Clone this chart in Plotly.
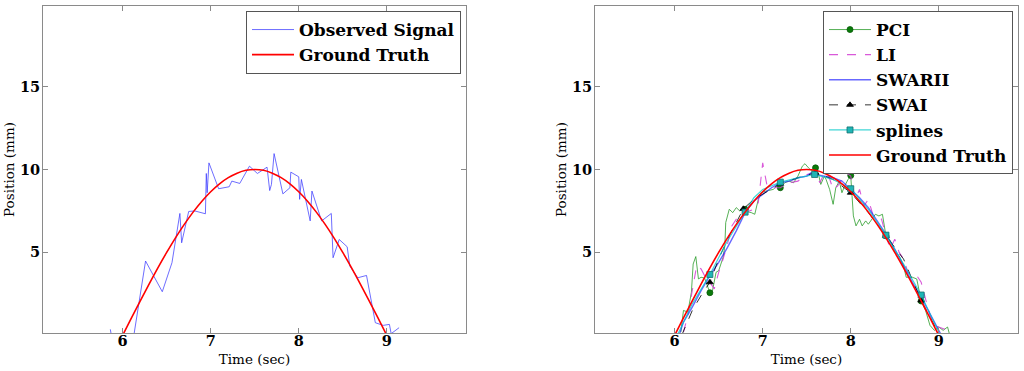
import plotly.graph_objects as go

# ---------------- data ----------------
obs_t = [5.86, 5.88, 5.95, 6.05, 6.13, 6.26, 6.45, 6.56, 6.65, 6.67, 6.75, 6.82, 6.94, 6.95, 6.96,
         6.98, 7.09, 7.21, 7.24, 7.33, 7.44, 7.53, 7.64, 7.67, 7.69, 7.72, 7.82, 7.90, 7.91, 8.00,
         8.01, 8.03, 8.13, 8.15, 8.26, 8.37, 8.39, 8.46, 8.55, 8.58, 8.67, 8.77, 8.87, 8.96, 9.03,
         9.05, 9.14]
obs_y = [0.36, -0.3, -0.5, -0.4, 0.1, 4.48, 2.63, 4.38, 7.35, 5.58, 7.47, 7.50, 7.33, 9.76, 8.60,
         10.40, 8.84, 8.96, 9.30, 9.16, 10.20, 9.76, 10.14, 8.73, 9.10, 10.96, 8.53, 8.90, 9.84, 9.56,
         8.20, 9.40, 6.90, 8.70, 6.90, 7.35, 4.68, 5.78, 5.34, 4.18, 3.47, 3.61, 0.76, 0.60, 0.66,
         0.10, 0.46]

gt_t = [6.0, 6.1, 6.2, 6.3, 6.4, 6.5, 6.6, 6.7, 6.8, 6.9, 7.0, 7.1, 7.2, 7.3, 7.4, 7.5,
        7.6, 7.7, 7.8, 7.9, 8.0, 8.1, 8.2, 8.3, 8.4, 8.5, 8.6, 8.7, 8.8, 8.9, 9.0]
gt_y = [0.0, 1.05, 2.08, 3.09, 4.07, 5.0, 5.88, 6.69, 7.43, 8.09, 8.66, 9.14, 9.51, 9.78, 9.95, 10.0,
        9.95, 9.78, 9.51, 9.14, 8.66, 8.09, 7.43, 6.69, 5.88, 5.0, 4.07, 3.09, 2.08, 1.05, 0.0]

pci_t = [6.07, 6.10, 6.15, 6.19, 6.21, 6.24, 6.27, 6.30, 6.34, 6.38, 6.40, 6.43, 6.47, 6.50, 6.55,
         6.57, 6.58, 6.62, 6.66, 6.70, 6.74, 6.78, 6.80, 6.83, 6.87, 6.91, 6.95, 6.98, 7.04, 7.12,
         7.16, 7.20, 7.25, 7.30, 7.35, 7.40, 7.45, 7.48, 7.52, 7.56, 7.60, 7.63, 7.66, 7.70, 7.72,
         7.76, 7.80, 7.83, 7.87, 7.90, 7.93, 7.97, 8.00, 8.03, 8.06, 8.10, 8.13, 8.17, 8.20, 8.24,
         8.28, 8.32, 8.36, 8.40, 8.45, 8.50, 8.55, 8.60, 8.63, 8.70, 8.75, 8.80, 8.85, 8.90, 8.95,
         9.00, 9.05, 9.10, 9.12]
pci_y = [0.2, 1.5, 1.4, 2.6, 4.3, 4.75, 3.4, 3.5, 3.45, 2.8, 2.57, 2.7, 3.8, 3.9, 4.7,
         5.4, 6.8, 7.6, 7.4, 7.7, 7.5, 7.7, 7.6, 7.45, 7.4, 7.3, 8.2, 8.6, 8.7, 8.8,
         9.0, 8.9, 9.2, 9.3, 9.2, 9.6, 10.2, 10.35, 10.1, 9.9, 10.1, 9.8, 9.1, 9.6, 9.4,
         8.8, 7.9, 8.9, 9.3, 8.6, 9.0, 9.4, 9.6, 7.2, 6.6, 7.0, 6.6, 6.9, 6.7, 7.0,
         7.3, 7.2, 7.3, 6.0, 5.7, 5.0, 4.8, 4.2, 3.5, 3.5, 3.4, 2.07, 1.5, 0.6, 0.3,
         0.5, 0.3, 0.5, 0.1]
pci_mt = [6.4, 6.8, 7.2, 7.6, 8.0, 8.4, 8.8]
pci_my = [2.57, 7.6, 8.9, 10.1, 9.64, 6.0, 2.07]

li_t = [6.10, 6.15, 6.25, 6.30, 6.35, 6.40, 6.45, 6.50, 6.55, 6.60, 6.65, 6.70, 6.80, 6.90, 6.95,
        7.00, 7.05, 7.10, 7.20, 7.30, 7.40, 7.50, 7.60, 7.65, 7.70, 7.75, 7.80, 7.85, 7.90, 7.95,
        8.00, 8.05, 8.10, 8.15, 8.20, 8.25, 8.30, 8.35, 8.40, 8.45, 8.50, 8.55, 8.60, 8.65, 8.70,
        8.75, 8.80, 8.85, 8.90, 8.95, 9.00, 9.05, 9.10]
li_y = [0.2, 1.2, 4.2, 4.0, 3.5, 3.2, 2.8, 3.8, 4.6, 5.5, 6.6, 7.0, 7.4, 7.6, 8.0,
        10.4, 9.0, 8.9, 8.9, 9.2, 9.3, 9.7, 9.8, 9.2, 9.8, 9.6, 8.8, 9.0, 9.4, 9.8,
        9.6, 8.2, 8.8, 7.8, 8.2, 7.3, 7.2, 7.0, 6.0, 5.2, 5.8, 5.0, 4.6, 3.8, 3.6,
        3.6, 3.2, 2.2, 1.2, 0.6, 0.5, 0.4, 0.3]

swarii_t = [6.05, 6.10, 6.20, 6.30, 6.40, 6.45, 6.50, 6.60, 6.70, 6.80, 6.90, 7.00, 7.10, 7.20,
            7.30, 7.40, 7.50, 7.55, 7.60, 7.70, 7.80, 7.90, 8.00, 8.10, 8.20, 8.30, 8.40, 8.50,
            8.60, 8.70, 8.80, 8.90, 9.00, 9.03]
swarii_y = [0.0, 0.8, 1.7, 2.7, 3.6, 4.0, 4.4, 5.3, 6.3, 7.4, 8.1, 8.5, 8.9, 9.2,
            9.3, 9.5, 9.6, 9.8, 9.7, 9.6, 9.5, 9.3, 8.8, 8.3, 7.7, 6.9, 6.1, 5.2,
            4.2, 3.2, 2.3, 1.3, 0.3, 0.0]

swai_t = [6.08, 6.20, 6.30, 6.40, 6.50, 6.60, 6.70, 6.78, 6.90, 7.00, 7.20, 7.40, 7.60, 7.80,
          8.00, 8.20, 8.40, 8.60, 8.80, 8.90, 9.00]
swai_y = [0.0, 1.5, 2.4, 3.2, 4.6, 5.8, 6.8, 7.63, 8.2, 8.5, 9.14, 9.5, 9.8, 9.4,
          8.6, 7.4, 6.0, 4.6, 2.1, 1.1, 0.1]
swai_mt = [6.4, 6.78, 7.2, 7.6, 8.0, 8.4, 8.8]
swai_my = [3.2, 7.63, 9.14, 9.8, 8.6, 6.0, 2.1]

spl_t = [6.03, 6.20, 6.40, 6.60, 6.80, 6.90, 7.00, 7.20, 7.40, 7.59, 7.80, 8.00, 8.20, 8.40,
         8.60, 8.80, 8.90, 9.00]
spl_y = [0.0, 1.9, 3.67, 5.7, 7.43, 8.3, 8.8, 9.24, 9.5, 9.7, 9.4, 8.84, 7.6, 6.04,
         4.3, 2.43, 1.3, 0.2]
spl_mt = [6.4, 6.8, 7.2, 7.59, 8.0, 8.4, 8.8]
spl_my = [3.67, 7.43, 9.24, 9.7, 8.84, 6.04, 2.43]

x_ticks = [6, 7, 8, 9]
y_ticks = [5, 10, 15]
x_range = [5.095, 9.9]
y_range = [0.14, 19.86]

# ---------------- figure ----------------
fig = go.Figure()

# left panel
fig.add_trace(go.Scatter(x=obs_t, y=obs_y, mode="lines", name="Observed Signal",
                         line=dict(color="rgba(60,60,255,0.75)", width=1),
                         xaxis="x", yaxis="y", legend="legend", legendgroup="obs"))
fig.add_trace(go.Scatter(x=gt_t, y=gt_y, mode="lines", name="Ground Truth",
                         line=dict(color="#ff0000", width=1.6, shape="spline"),
                         xaxis="x", yaxis="y", legend="legend", legendgroup="gt"))

# right panel
def series(t, y, name, color, dash, width, mt=None, my=None, msym=None, mcol=None, mline=None):
    fig.add_trace(go.Scatter(x=t, y=y, mode="lines", name=name, showlegend=False,
                             line=dict(color=color, width=width, dash=dash),
                             xaxis="x2", yaxis="y2", legendgroup=name))
    if mt is not None:
        fig.add_trace(go.Scatter(x=mt, y=my, mode="markers", name=name, showlegend=False,
                                 marker=dict(symbol=msym, size=6, color=mcol,
                                             line=dict(color=mline, width=0.8)),
                                 xaxis="x2", yaxis="y2", legendgroup=name))
    # legend proxy
    mode = "lines+markers" if mt is not None else "lines"
    fig.add_trace(go.Scatter(x=[None], y=[None], mode=mode, name=name,
                             line=dict(color=color, width=width, dash=dash),
                             marker=dict(symbol=msym or "circle", size=6, color=mcol,
                                         line=dict(color=mline, width=0.8)),
                             xaxis="x2", yaxis="y2", legend="legend2", legendgroup=name))

series(pci_t, pci_y, "PCI", "rgba(30,150,30,0.75)", "solid", 1,
       pci_mt, pci_my, "circle", "#0a7a0a", "#075a07")
series(li_t, li_y, "LI", "rgba(210,60,210,0.85)", "dash", 1.1)
series(swarii_t, swarii_y, "SWARII", "rgba(40,40,255,0.7)", "solid", 1.4)
series(swai_t, swai_y, "SWAI", "rgba(0,0,0,0.8)", "dash", 1,
       swai_mt, swai_my, "triangle-up", "#000000", "#000000")
series(spl_t, spl_y, "splines", "rgba(0,200,200,0.75)", "solid", 1.2,
       spl_mt, spl_my, "square", "#1fb5b5", "#137070")
fig.add_trace(go.Scatter(x=gt_t, y=gt_y, mode="lines", name="Ground Truth",
                         line=dict(color="#ff0000", width=1.6, shape="spline"),
                         xaxis="x2", yaxis="y2", legend="legend2", legendgroup="gt2"))

serif = "DejaVu Serif"
tickfont = dict(family=serif, size=14.5, color="black", weight="bold")
titlefont = dict(family=serif, size=13.5, color="black")
axcol = "#8a8a8a"

def xax(domain, anchor):
    return dict(domain=domain, anchor=anchor, range=x_range, tickvals=x_ticks,
                ticks="inside", ticklen=5, tickcolor=axcol, showline=True, linecolor=axcol,
                linewidth=1, mirror="ticks", showgrid=False, zeroline=False,
                ticklabelstandoff=-5,
                tickfont=tickfont, title=dict(text="Time (sec)", font=titlefont, standoff=6))

def yax(domain, anchor):
    return dict(domain=domain, anchor=anchor, range=y_range, tickvals=y_ticks,
                ticks="inside", ticklen=5, tickcolor=axcol, showline=True, linecolor=axcol,
                linewidth=1, mirror="ticks", showgrid=False, zeroline=False,
                ticklabelstandoff=-1,
                tickfont=tickfont, title=dict(text="Position (mm)", font=titlefont, standoff=2))

ydom = [1 - 333 / 371, 1 - 6 / 371]
legfont = dict(family=serif, size=17, color="black", weight="bold")
fig.update_layout(
    width=1024, height=371,
    margin=dict(l=0, r=0, t=0, b=0),
    paper_bgcolor="white", plot_bgcolor="white",
    xaxis=xax([43 / 1024, 466 / 1024], "y"),
    yaxis=yax(ydom, "x"),
    xaxis2=xax([595 / 1024, 1018 / 1024], "y2"),
    yaxis2=yax(ydom, "x2"),
    legend=dict(x=246 / 1024, y=1 - 11 / 371, xanchor="left", yanchor="top",
                bgcolor="white", bordercolor="#555555", borderwidth=1, font=legfont,
                traceorder="grouped", tracegroupgap=0, itemwidth=42),
    legend2=dict(x=823 / 1024, y=1 - 11 / 371, xanchor="left", yanchor="top",
                 bgcolor="white", bordercolor="#555555", borderwidth=1, font=legfont,
                 traceorder="grouped", tracegroupgap=0, itemwidth=42),
    showlegend=True,
)

fig.write_html("out.html", config={"displayModeBar": False},
               post_script="document.body.style.margin='0';document.body.style.overflow='hidden';")
